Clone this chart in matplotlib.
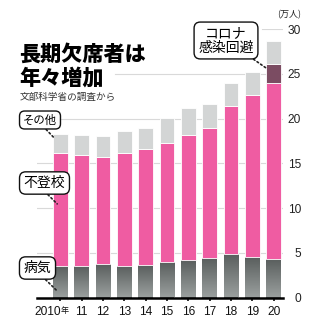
import numpy as np
import matplotlib
matplotlib.use('Agg')
import matplotlib.pyplot as plt
import matplotlib.transforms as mtransforms
from matplotlib.colors import LinearSegmentedColormap

# ---- data (万人) ----
years = ['2010', '11', '12', '13', '14', '15', '16', '17', '18', '19', '20']
illness = [3.56, 3.53, 3.75, 3.56, 3.60, 4.01, 4.17, 4.46, 4.85, 4.54, 4.31]
truancy = [12.59, 12.39, 11.91, 12.65, 13.00, 13.26, 14.03, 14.47, 16.52, 18.14, 19.68]
covid = [0, 0, 0, 0, 0, 0, 0, 0, 0, 0, 2.12]
other = [2.13, 2.24, 2.39, 2.44, 2.41, 2.80, 3.05, 2.74, 2.62, 2.57, 2.61]
yticks = [0, 5, 10, 15, 20, 25, 30]

NARROW = ['Liberation Sans Narrow', 'Liberation Sans', 'DejaVu Sans']
NUM = ['Liberation Sans', 'DejaVu Sans']
JP = ['Noto Sans CJK JP', 'DejaVu Sans']

c_pink = '#ef5ca2'
c_other = '#d3d5d5'
c_covid = '#7b4c62'

fig = plt.figure(figsize=(3.25, 3.25), dpi=100)
W = H = 325.0
ax = fig.add_axes([36.7 / W, 1 - 297.5 / H, (283 - 36.7) / W, (297.5 - 29.3) / H])

x = np.arange(len(years))
bw = 0.7
ill = np.array(illness)
tru = np.array(truancy)
cov = np.array(covid)
oth = np.array(other)

# gridlines
grid_c = '#d9d9d9'
for v in yticks[1:]:
    xmin = 0
    if v == 25:
        xmin = (115 - 36.7) / (283 - 36.7)
    if v == 30:
        xmin = (262 - 36.7) / (283 - 36.7)
    ax.axhline(v, xmin=xmin, xmax=1, color=grid_c, lw=0.8, zorder=0)

b_ill = ax.bar(x, ill, bw, color='#737877', zorder=2, linewidth=0)
cmap = LinearSegmentedColormap.from_list('g', ['#9a9f9e', '#585d5c'])
grad = np.linspace(0, 1, 256).reshape(-1, 1)
for p in b_ill:
    im = ax.imshow(grad, extent=(p.get_x(), p.get_x() + p.get_width(), 0, p.get_height()),
                   origin='lower', cmap=cmap, aspect='auto', zorder=2.5)
    im.set_clip_path(p)
ax.bar(x, tru, bw, bottom=ill, color=c_pink, edgecolor='white', linewidth=0.6, zorder=3)
ax.bar(x, cov, bw, bottom=ill + tru, color=c_covid, edgecolor='white', linewidth=0.6, zorder=3)
ax.bar(x, oth, bw, bottom=ill + tru + cov, color=c_other, edgecolor='white', linewidth=0.6, zorder=3)

ax.set_xlim(-1.11, 10.44)
ax.set_ylim(0, 30)

for s in ['top', 'left', 'right']:
    ax.spines[s].set_visible(False)
ax.spines['bottom'].set_linewidth(1.8)
ax.spines['bottom'].set_zorder(5)

ax.yaxis.tick_right()
ax.set_yticks(yticks)
ax.set_yticklabels([str(v) for v in yticks], family=NUM, fontsize=8.6, color='#222222', ha='right')
ax.tick_params(axis='y', length=0, pad=13)

ax.set_xticks(x)
ax.set_xticklabels(years, family=NARROW, fontsize=8.6, color='#111111')
ax.tick_params(axis='x', length=2.5, width=1.3, pad=3.5, color='#222222')
lab0 = ax.get_xticklabels()[0]
lab0.set_transform(lab0.get_transform() + mtransforms.ScaledTranslation(-13 / 100, 0, fig.dpi_scale_trans))
ax.annotate('年', xy=(0, 0), xycoords='data', xytext=(4, -13), textcoords='offset pixels',
            ha='center', va='center', fontsize=5.8, family=JP, color='#111111')

# unit
fig.text(289 / W, 1 - 15 / H, '(万人)', family=JP, fontsize=6.5, ha='center', va='center', color='#222222')

# title
fig.text(19 / W, 1 - 54 / H, '長期欠席者は', family=JP, fontsize=15.2, fontweight='black', ha='left', va='center')
fig.text(19 / W, 1 - 78 / H, '年々増加', family=JP, fontsize=15.2, fontweight='black', ha='left', va='center')
fig.text(20 / W, 1 - 97 / H, '文部科学省の調査から', family=JP, fontsize=6.9, ha='left', va='center', color='#333333')

# annotations
def label(text, center, target, relx, fs):
    ax.annotate(text, xy=target, xycoords='data',
                xytext=(center[0], H - center[1]), textcoords='figure pixels',
                ha='center', va='center', family=JP, fontsize=fs, linespacing=1.05,
                bbox=dict(boxstyle='round,pad=0.3,rounding_size=0.45', fc='white', ec='#111111', lw=1.0),
                arrowprops=dict(arrowstyle='-', linestyle=(0, (1, 1.6)), lw=1.2, color='#222222',
                                relpos=(relx, 0), shrinkA=0, shrinkB=0),
                zorder=6)

label('その他', (40, 120), (-0.25, 17.75), 0.57, 8.2)
label('不登校', (44.5, 183), (-0.15, 10.47), 0.47, 10)
label('病気', (37.5, 268), (-0.15, 0.73), 0.62, 10)
label('コロナ\n感染回避', (226, 40.5), (9.69, 25.6), 0.88, 10)

fig.savefig('out.png', dpi=100)
